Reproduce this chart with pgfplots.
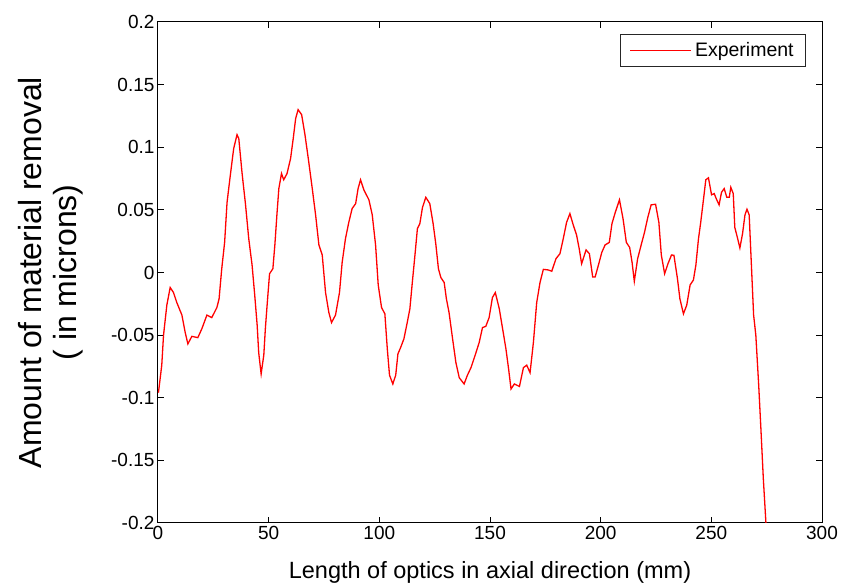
\documentclass[border=0pt]{standalone}
\usepackage{pgfplots}
\pgfplotsset{compat=1.18}
\usepackage{fontspec}
\setmainfont{Liberation Sans}

\pgfplotstableread{
x y
0.2 -0.096
1.7 -0.074
2.5 -0.050
4.0 -0.026
5.5 -0.012
7.0 -0.016
8.5 -0.024
10.8 -0.034
12.3 -0.048
13.5 -0.057
15.3 -0.051
18.0 -0.052
19.8 -0.045
22.1 -0.034
24.3 -0.036
26.6 -0.028
27.6 -0.021
28.8 0.003
30.1 0.024
31.2 0.056
32.7 0.078
34.2 0.099
35.7 0.110
36.5 0.107
38.0 0.079
39.5 0.055
41.0 0.027
42.5 0.006
43.7 -0.018
44.8 -0.042
45.5 -0.064
46.6 -0.081
47.8 -0.066
48.5 -0.045
49.3 -0.026
50.4 -0.001
51.9 0.003
52.8 0.022
53.8 0.048
54.6 0.067
55.8 0.079
56.8 0.074
58.3 0.079
59.9 0.091
61.1 0.107
62.2 0.123
63.3 0.130
64.9 0.126
66.4 0.110
67.9 0.091
69.7 0.067
71.2 0.046
72.7 0.022
74.2 0.014
75.7 -0.016
77.2 -0.032
78.4 -0.040
80.2 -0.034
82.0 -0.016
83.2 0.008
84.7 0.027
86.2 0.040
87.7 0.051
89.3 0.055
90.4 0.067
91.5 0.074
93.0 0.066
95.3 0.058
96.8 0.046
98.3 0.022
99.5 -0.010
101.0 -0.028
102.5 -0.033
103.6 -0.061
104.6 -0.082
106.1 -0.089
107.4 -0.082
108.4 -0.065
109.6 -0.060
111.1 -0.053
112.6 -0.040
113.8 -0.029
114.9 -0.008
116.1 0.014
117.2 0.035
118.3 0.039
119.5 0.052
121.0 0.060
122.8 0.055
124.3 0.039
125.5 0.023
126.7 0.003
127.8 -0.004
129.3 -0.008
130.3 -0.021
131.5 -0.032
133.1 -0.053
134.6 -0.072
136.1 -0.084
138.3 -0.089
139.8 -0.082
141.4 -0.076
143.3 -0.066
145.1 -0.056
146.6 -0.044
148.1 -0.043
149.6 -0.036
151.1 -0.020
152.4 -0.016
154.2 -0.029
155.7 -0.045
157.2 -0.061
158.4 -0.077
159.5 -0.093
161.0 -0.089
163.3 -0.091
165.1 -0.076
166.6 -0.074
168.1 -0.080
169.6 -0.056
171.1 -0.024
172.6 -0.008
174.1 0.0025
176.4 0.002
177.9 0.001
179.8 0.011
181.6 0.015
183.1 0.027
184.6 0.040
186.1 0.047
187.6 0.038
189.1 0.030
190.3 0.019
191.4 0.007
193.4 0.018
194.9 0.015
196.4 -0.0036
197.5 -0.0036
199.0 0.006
200.5 0.016
202.0 0.022
203.9 0.024
205.1 0.039
206.6 0.048
208.5 0.058
210.1 0.043
211.6 0.024
213.1 0.020
214.2 0.008
215.2 -0.007
216.7 0.011
218.3 0.022
219.8 0.032
221.3 0.044
222.8 0.054
224.8 0.0545
226.3 0.040
227.4 0.014
228.9 -0.001
230.4 0.007
232.0 0.014
233.1 0.0137
234.7 -0.005
235.8 -0.021
237.4 -0.033
238.9 -0.026
240.4 -0.010
241.9 -0.006
243.0 0.0057
244.2 0.027
245.2 0.040
246.5 0.059
247.5 0.074
248.7 0.0756
250.1 0.062
251.3 0.063
252.2 0.059
253.5 0.054
254.6 0.064
255.8 0.067
257.0 0.060
258.1 0.060
258.8 0.068
259.9 0.063
260.6 0.036
261.9 0.027
262.9 0.0196
264.1 0.031
265.2 0.046
266.1 0.0505
267.1 0.046
267.9 0.014
269.1 -0.034
270.1 -0.050
271.4 -0.090
272.4 -0.125
273.5 -0.165
274.7 -0.201
275.2 -0.220
}\removaldata

\begin{document}
\begin{tikzpicture}
\begin{axis}[
  scale only axis,
  width=664pt, height=501pt,
  xmin=0, xmax=300, ymin=-0.2, ymax=0.2,
  xtick={0,50,...,300},
  ytick={-0.2,-0.15,-0.1,-0.05,0,0.05,0.1,0.15,0.2},
  scaled y ticks=false,
  tick align=inside, tick pos=both,
  major tick length=6pt,
  axis line style={black, line width=1pt},
  every tick/.style={black, line width=1pt},
  tick label style={font=\fontsize{19}{19}\selectfont},
  /pgf/number format/assume math mode=true,
  yticklabel style={/pgf/number format/fixed, /pgf/number format/precision=2},
  xlabel={Length of optics in axial direction (mm)},
  xlabel style={font=\fontsize{23.5}{24}\selectfont, at={(axis description cs:0.5,-0.1098)}, anchor=base},
  ylabel={Amount of material removal\\( in microns)},
  ylabel style={font=\fontsize{32}{35}\selectfont, align=center, inner sep=0pt,
    at={(axis description cs:-0.113,0.5)}, anchor=south},
  legend style={at={(0.976,0.976)}, anchor=north east, draw=black!85, line width=0.8pt,
    font=\fontsize{19.5}{20}\selectfont, inner xsep=9pt, inner ysep=5pt,
    nodes={inner sep=3pt}, cells={anchor=west}},
  legend image code/.code={\draw[red, line width=1.3pt] (0pt,0pt) -- (61pt,0pt);},
]
\addplot[red, line width=1.3pt] table[x=x, y=y] {\removaldata};
\addlegendentry{Experiment}
\end{axis}
\path ([shift={(-158pt,-61pt)}]current axis.south west) rectangle ([shift={(32pt,22pt)}]current axis.north east);
\end{tikzpicture}
\end{document}
